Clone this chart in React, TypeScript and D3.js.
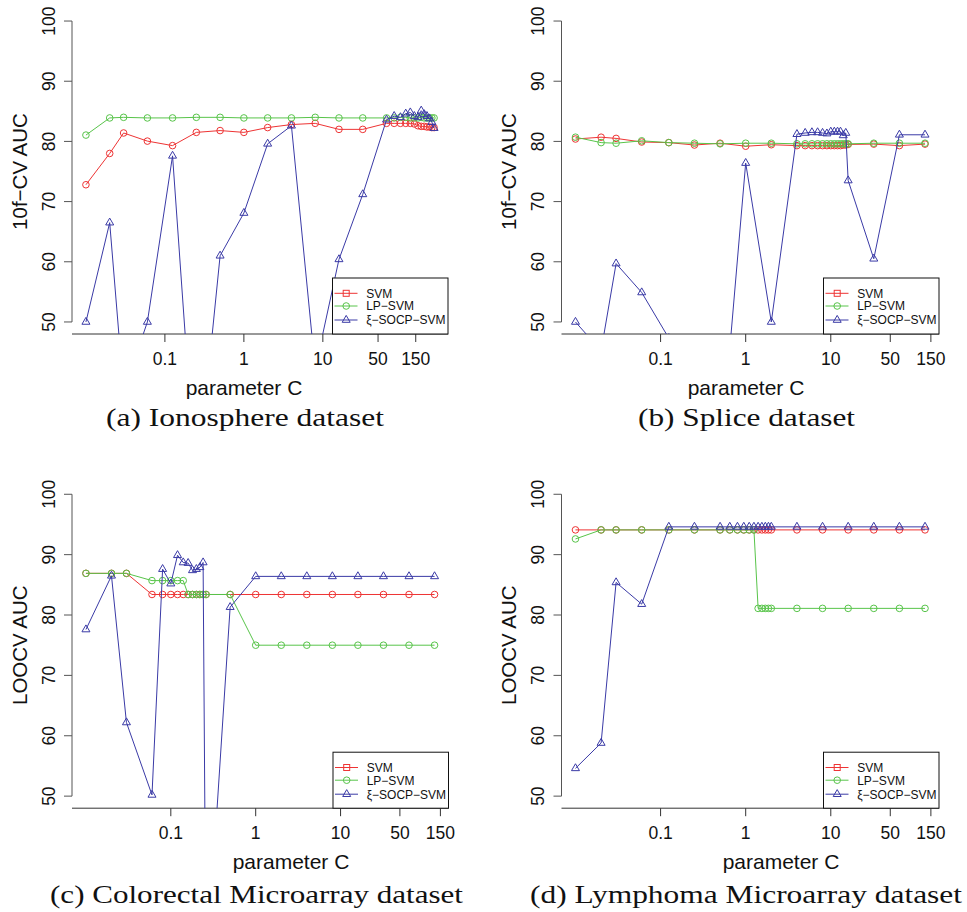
import React from 'react';
import * as d3 from 'd3';

// axis ticks
const xTicks = [0.1, 1, 10, 50, 150];
const xTickLabels = ['0.1', '1', '10', '50', '150'];
const yTicks = [50, 60, 70, 80, 90, 100];
const seriesNames = ['SVM', 'LP\u2212SVM', '\u03be\u2212SOCP\u2212SVM'];

// (a) Ionosphere
const cA = [0.01, 0.02, 0.03, 0.06, 0.125, 0.25, 0.5, 1, 2, 4, 8, 16, 32, 64, 80, 96, 112, 128, 144, 160, 176, 192, 208, 224, 240, 256];
const svmA = [72.8, 78.0, 81.4, 80.05, 79.3, 81.5, 81.8, 81.5, 82.3, 82.8, 83.0, 82.0, 82.0, 83.0, 83.0, 83.0, 83.0, 83.0, 82.9, 82.6, 82.5, 82.5, 82.4, 82.4, 82.3, 82.3];
const lpA = [81.05, 83.9, 84.0, 83.9, 83.9, 84.0, 84.0, 83.9, 83.9, 83.9, 84.0, 83.9, 83.9, 83.9, 83.9, 84.0, 84.0, 83.9, 83.9, 83.9, 84.0, 83.9, 83.9, 83.9, 83.9, 83.9];
const socpA = [50.0, 66.5, 38.4, 50.0, 77.6, 21.7, 61.0, 68.1, 79.6, 82.6, 42.2, 60.4, 71.2, 83.6, 84.2, 84.0, 84.6, 84.8, 84.2, 84.0, 85.1, 84.5, 84.2, 83.8, 83.2, 82.2];

// (b) Splice
const cB = [0.01, 0.02, 0.03, 0.06, 0.125, 0.25, 0.5, 1, 2, 4, 5, 6, 7, 8, 9, 10, 11, 12, 13, 14, 15, 16, 32, 64, 128];
const svmB = [80.4, 80.7, 80.5, 79.9, 79.8, 79.4, 79.7, 79.2, 79.45, 79.3, 79.3, 79.3, 79.3, 79.3, 79.3, 79.3, 79.3, 79.3, 79.3, 79.4, 79.4, 79.5, 79.55, 79.3, 79.55];
const lpB = [80.7, 79.8, 79.7, 80.1, 79.8, 79.7, 79.6, 79.7, 79.7, 79.6, 79.6, 79.6, 79.6, 79.6, 79.6, 79.6, 79.6, 79.6, 79.6, 79.6, 79.6, 79.6, 79.7, 79.7, 79.7];
const socpB = [50.0, 45.2, 59.7, 54.9, 47.3, 35.0, 26.7, 76.4, 50.0, 81.2, 81.4, 81.5, 81.5, 81.4, 81.3, 81.6, 81.6, 81.6, 81.6, 81.0, 81.4, 73.5, 60.5, 81.1, 81.1];

// (c) Colorectal Microarray
const cC = [0.01, 0.02, 0.03, 0.06, 0.08, 0.1, 0.12, 0.14, 0.16, 0.18, 0.2, 0.22, 0.24, 0.26, 0.5, 1, 2, 4, 8, 16, 32, 64, 128];
const svmC = [86.9, 86.9, 86.9, 83.4, 83.4, 83.4, 83.4, 83.4, 83.4, 83.4, 83.4, 83.4, 83.4, 83.4, 83.4, 83.4, 83.4, 83.4, 83.4, 83.4, 83.4, 83.4, 83.4];
const lpC = [86.9, 86.9, 86.9, 85.7, 85.7, 85.7, 85.7, 85.7, 83.4, 83.4, 83.4, 83.4, 83.4, 83.4, 83.4, 75.0, 75.0, 75.0, 75.0, 75.0, 75.0, 75.0, 75.0];
const socpC = [77.6, 86.5, 62.2, 50.2, 87.6, 85.2, 89.9, 88.7, 88.6, 87.4, 87.6, 87.9, 88.7, 19.9, 81.3, 86.4, 86.4, 86.4, 86.4, 86.4, 86.4, 86.4, 86.4];

// (d) Lymphoma Microarray
const cD = [0.01, 0.02, 0.03, 0.06, 0.125, 0.25, 0.5, 0.65, 0.8, 0.95, 1.1, 1.25, 1.4, 1.55, 1.7, 1.85, 2, 4, 8, 16, 32, 64, 128];
const svmD = [94.1, 94.1, 94.1, 94.1, 94.1, 94.1, 94.1, 94.1, 94.1, 94.1, 94.1, 94.1, 94.1, 94.1, 94.1, 94.1, 94.1, 94.1, 94.1, 94.1, 94.1, 94.1, 94.1];
const lpD = [92.6, 94.1, 94.1, 94.1, 94.1, 94.1, 94.1, 94.1, 94.1, 94.1, 94.1, 94.1, 81.1, 81.1, 81.1, 81.1, 81.1, 81.1, 81.1, 81.1, 81.1, 81.1, 81.1];
const socpD = [54.6, 58.8, 85.4, 81.8, 94.6, 94.6, 94.6, 94.6, 94.6, 94.6, 94.6, 94.6, 94.6, 94.6, 94.6, 94.6, 94.6, 94.6, 94.6, 94.6, 94.6, 94.6, 94.6];

const RED = '#ee3434';
const GREEN = '#58c44a';
const BLUE = '#3a3aa6';
const AXIS = '#555';
const SANS = '"Liberation Sans", Arial, sans-serif';
const SERIF = '"Liberation Serif", "Times New Roman", serif';

type PanelProps = {
  id: string;
  c: number[];
  svm: number[];
  lp: number[];
  socp: number[];
  yTitle: string;
  caption: string;
  left: number;
  right: number;
  top: number;
  bottom: number;
  xLabelX: number;
  capX: number;
  capY: number;
  capW: number;
};

function Marker({ kind, x, y, color }: { kind: string; x: number; y: number; color: string }) {
  if (kind === 'circle') return <circle cx={x} cy={y} r={3.3} fill="none" stroke={color} strokeWidth={1} />;
  if (kind === 'square') return <rect x={x - 3} y={y - 3} width={6} height={6} fill="none" stroke={color} strokeWidth={1} />;
  return <path d={`M${x},${y - 4.6}L${x + 4},${y + 2.3}L${x - 4},${y + 2.3}Z`} fill="none" stroke={color} strokeWidth={1} />;
}

function Panel(p: PanelProps) {
  const lo = Math.log10(d3.min(p.c)!);
  const hi = Math.log10(d3.max(p.c)!);
  const pad = 0.04 * (hi - lo);
  const x = d3.scaleLog().domain([10 ** (lo - pad), 10 ** (hi + pad)]).range([p.left, p.right]);
  const y = d3.scaleLinear().domain([48, 102]).range([p.bottom, p.top]);
  const line = d3.line<number>().x((_, i) => x(p.c[i])).y((d) => y(d));
  const series = [
    { vals: p.svm, color: RED, mark: 'circle' },
    { vals: p.lp, color: GREEN, mark: 'circle' },
    { vals: p.socp, color: BLUE, mark: 'tri' },
  ];
  const legendMarks = ['square', 'circle', 'tri'];
  const legendColors = [RED, GREEN, BLUE];
  const lgW = 115.5;
  const lgH = 56;
  const lgL = p.right - lgW;
  const lgT = p.bottom - lgH;
  const rows = [lgT + 15.3, lgT + 28, lgT + 42];
  return (
    <g>
      <defs>
        <clipPath id={`clip-${p.id}`}>
          <rect x={p.left} y={p.top} width={p.right - p.left} height={p.bottom - p.top} />
        </clipPath>
      </defs>
      {/* y axis */}
      <line x1={p.left} x2={p.left} y1={y(50)} y2={y(100)} stroke={AXIS} strokeWidth={1} />
      {yTicks.map((t) => (
        <g key={t}>
          <line x1={p.left - 8} x2={p.left} y1={y(t)} y2={y(t)} stroke={AXIS} strokeWidth={1} />
          <text
            transform={`translate(${p.left - 17.5},${y(t)}) rotate(-90)`}
            textAnchor="middle"
            fontFamily={SANS}
            fontSize={17.5}
            fill="#111"
          >
            {t}
          </text>
        </g>
      ))}
      <text
        transform={`translate(${p.left - 45.5},${(p.top + p.bottom) / 2}) rotate(-90)`}
        textAnchor="middle"
        fontFamily={SANS}
        fontSize={20.5}
        fill="#111"
      >
        {p.yTitle}
      </text>
      {/* x axis */}
      <line x1={p.left} x2={p.right} y1={p.bottom} y2={p.bottom} stroke="#333" strokeWidth={1} />
      {xTicks.map((t, i) => (
        <g key={t}>
          <line x1={x(t)} x2={x(t)} y1={p.bottom} y2={p.bottom + 8} stroke="#333" strokeWidth={1} />
          <text x={x(t)} y={p.bottom + 31} textAnchor="middle" fontFamily={SANS} fontSize={17.5} fill="#111">
            {xTickLabels[i]}
          </text>
        </g>
      ))}
      <text x={p.xLabelX} y={p.bottom + 60.5} textAnchor="middle" fontFamily={SANS} fontSize={21} fill="#111">
        parameter C
      </text>
      {/* series */}
      <g clipPath={`url(#clip-${p.id})`}>
        {series.map((s, si) => (
          <g key={si}>
            <path d={line(s.vals) || ''} fill="none" stroke={s.color} strokeWidth={1} />
            {s.vals.map((v, i) => (
              <Marker key={i} kind={s.mark} x={x(p.c[i])} y={y(v)} color={s.color} />
            ))}
          </g>
        ))}
      </g>
      {/* legend */}
      <rect x={lgL} y={lgT} width={lgW} height={lgH} fill="white" stroke="#111" strokeWidth={1} />
      {seriesNames.map((n, i) => (
        <g key={n}>
          <line x1={lgL + 2} x2={lgL + 25} y1={rows[i]} y2={rows[i]} stroke={legendColors[i]} strokeWidth={1} />
          <Marker kind={legendMarks[i]} x={lgL + 13.7} y={rows[i]} color={legendColors[i]} />
          <text x={lgL + 33.7} y={rows[i] + 4.3} fontFamily={SANS} fontSize={12} fill="#111">
            {n}
          </text>
        </g>
      ))}
      {/* caption */}
      <text
        x={p.capX}
        y={p.capY}
        textAnchor="middle"
        fontFamily={SERIF}
        fontSize={24.5}
        fill="#111"
        textLength={p.capW}
        lengthAdjust="spacingAndGlyphs"
      >
        {p.caption}
      </text>
    </g>
  );
}

export default function App() {
  return (
    <svg
      width={967}
      height={912}
      style={{ position: 'absolute', left: 0, top: 0, background: 'white' }}
    >
      <rect width={967} height={912} fill="white" />
      <Panel id="a" c={cA} svm={svmA} lp={lpA} socp={socpA} yTitle={'10f\u2212CV AUC'}
        caption="(a) Ionosphere dataset" left={72} right={448} top={9} bottom={334}
        xLabelX={244} capX={245} capY={426} capW={278} />
      <Panel id="b" c={cB} svm={svmB} lp={lpB} socp={socpB} yTitle={'10f\u2212CV AUC'}
        caption="(b) Splice dataset" left={561.5} right={939} top={9} bottom={334}
        xLabelX={746} capX={746.5} capY={426} capW={217} />
      <Panel id="c" c={cC} svm={svmC} lp={lpC} socp={socpC} yTitle="LOOCV AUC"
        caption="(c) Colorectal Microarray dataset" left={72} right={448.5} top={482.2} bottom={808.2}
        xLabelX={291} capX={256.5} capY={902.5} capW={413} />
      <Panel id="d" c={cD} svm={svmD} lp={lpD} socp={socpD} yTitle="LOOCV AUC"
        caption="(d) Lymphoma Microarray dataset" left={561.5} right={939} top={482.2} bottom={808.2}
        xLabelX={781} capX={746} capY={902.5} capW={432} />
    </svg>
  );
}
